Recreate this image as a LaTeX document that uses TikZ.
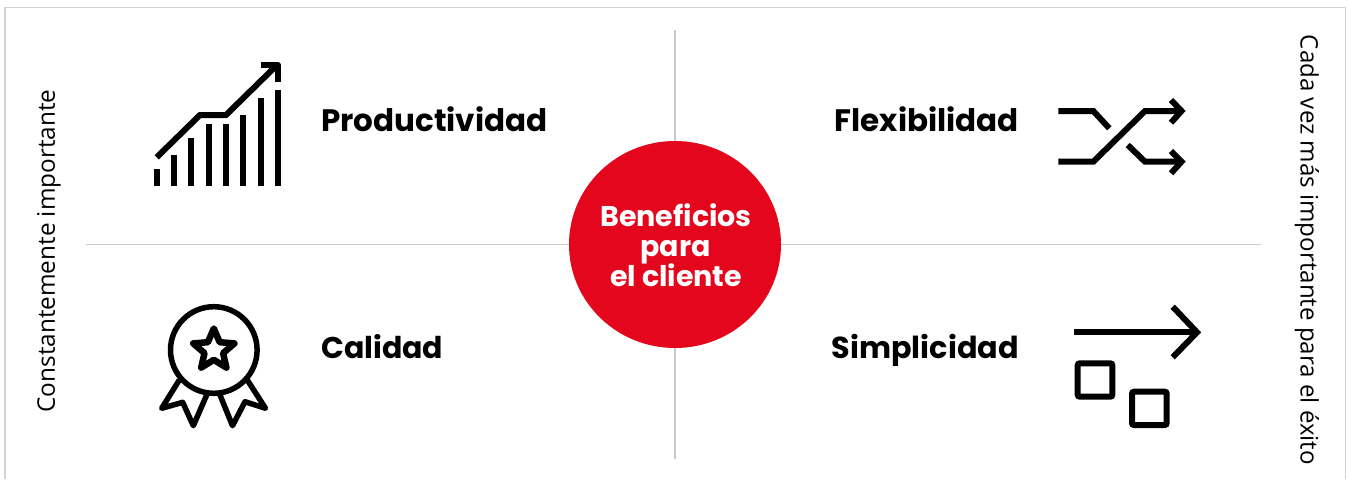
\documentclass[tikz,border=0pt]{standalone}
\usepackage{fontspec}
\usetikzlibrary{shapes.geometric}
\setmainfont{Poppins}
\newfontfamily\lightfont{Open Sans}
\definecolor{abbred}{HTML}{E3061C}
\definecolor{axisgray}{HTML}{C9C9C9}
\definecolor{framegray}{HTML}{D2D2D2}
\tikzset{
  iconline/.style={draw=black,line width=6pt,line join=miter,fill=none},
  roundicon/.style={draw=black,line width=5.5pt,line join=round,fill=none},
  bar/.style={fill=black,draw=none},
  axisline/.style={draw=axisgray,line width=1.2pt},
  heading/.style={font=\fontsize{#1}{36}\selectfont\bfseries,anchor=base west,inner sep=0pt,text=black},
  headingr/.style={font=\fontsize{#1}{36}\selectfont\bfseries,anchor=base east,inner sep=0pt,text=black},
  centertext/.style={font=\fontsize{28.5}{32}\selectfont\bfseries,text=white,anchor=base,inner sep=0pt},
  sidelabel/.style={font=\lightfont\fontsize{#1}{28}\selectfont,inner sep=0pt,text=black}
}
\begin{document}
\begin{tikzpicture}[x=1pt,y=-1pt]
\useasboundingbox (0,0) rectangle (1351,479);
\fill[white] (0,0) rectangle (1351,479);
\draw[framegray,line width=1.6pt] (4.8,479) -- (4.8,7.5) -- (1345.5,7.5) -- (1345.5,479);
% axes
\coordinate (vtop) at (675,30);
\coordinate (vbot) at (675,459);
\coordinate (hleft) at (86,244.5);
\coordinate (hright) at (1261,244.5);
\draw[axisline] (vtop) -- (vbot);
\draw[axisline] (hleft) -- (hright);
% centre
\node[ellipse,fill=abbred,minimum width=212pt,minimum height=207pt,inner sep=0pt] (center) at (675,244.5) {};
\node[centertext] (c1) at (676,226) {Beneficios};
\node[centertext] (c2) at (675.5,256) {para};
\node[centertext] (c3) at (676,286) {el cliente};
% headings
\node[heading=31] (prod) at (321,131) {Productividad};
\node[heading=30] (cal) at (321,358) {Calidad};
\node[headingr=31] (flex) at (1019,131) {Flexibilidad};
\node[headingr=30.3] (simp) at (1019,358) {Simplicidad};
% side labels
\node[sidelabel=24.3,rotate=90] (left) at (49,251) {Constantemente importante};
\node[sidelabel=24.1,rotate=-90] (right) at (1307,250) {Cada vez más importante para el éxito};
% chart icon
\foreach \x/\t in {156.7/168.7,174/155,191.3/138,208.7/124,226/124,243.3/115.3,260.7/98.3,278/90}
  \fill[bar] (\x-3,\t) rectangle (\x+3,186);
\draw[iconline] (156.7,157.3) -- (200,115) -- (226,115) -- (276,66);
\draw[iconline,line join=round] (260.7,65) -- (278,65) -- (278,81.7);
% medal icon
\draw[roundicon] (213.8,350) circle (43.3);
\draw[roundicon,line width=6.5pt] (213.8,328.5) -- (219.7,342.2) -- (234.4,343.4) -- (223.1,353.1) -- (226.4,367.6) -- (213.8,359.8) -- (201.2,367.6) -- (204.5,353.1) -- (193.2,343.4) -- (207.9,342.2) -- cycle;
\draw[roundicon] (179.3,380) -- (161.7,408.3) -- (182.7,402.3) -- (193.3,425.7) -- (206.7,395);
\draw[roundicon] (247.3,380) -- (265.5,408.3) -- (245,401.7) -- (232.5,425.7) -- (220,395);
% shuffle icon
\draw[iconline] (1058.3,111) -- (1093.3,111) -- (1109.3,128.3);
\draw[iconline] (1058.3,161.7) -- (1093.3,161.7) -- (1145,111) -- (1181,111);
\draw[iconline] (1127.7,145) -- (1145,161.7) -- (1181,161.7);
\draw[iconline] (1171,100) -- (1181.5,111) -- (1171,122.7);
\draw[iconline] (1171,151) -- (1181.5,161.7) -- (1171,173.3);
% simplicity icon
\draw[iconline] (1074.3,332.3) -- (1196,332.3);
\draw[iconline] (1172.7,306.7) -- (1197,332.3) -- (1172.7,357.3);
\draw[iconline,rounded corners=2pt] (1077.7,363.3) rectangle (1112.3,396.7);
\draw[iconline,rounded corners=2pt] (1132,391.7) rectangle (1166.7,425);
\end{tikzpicture}
\end{document}
